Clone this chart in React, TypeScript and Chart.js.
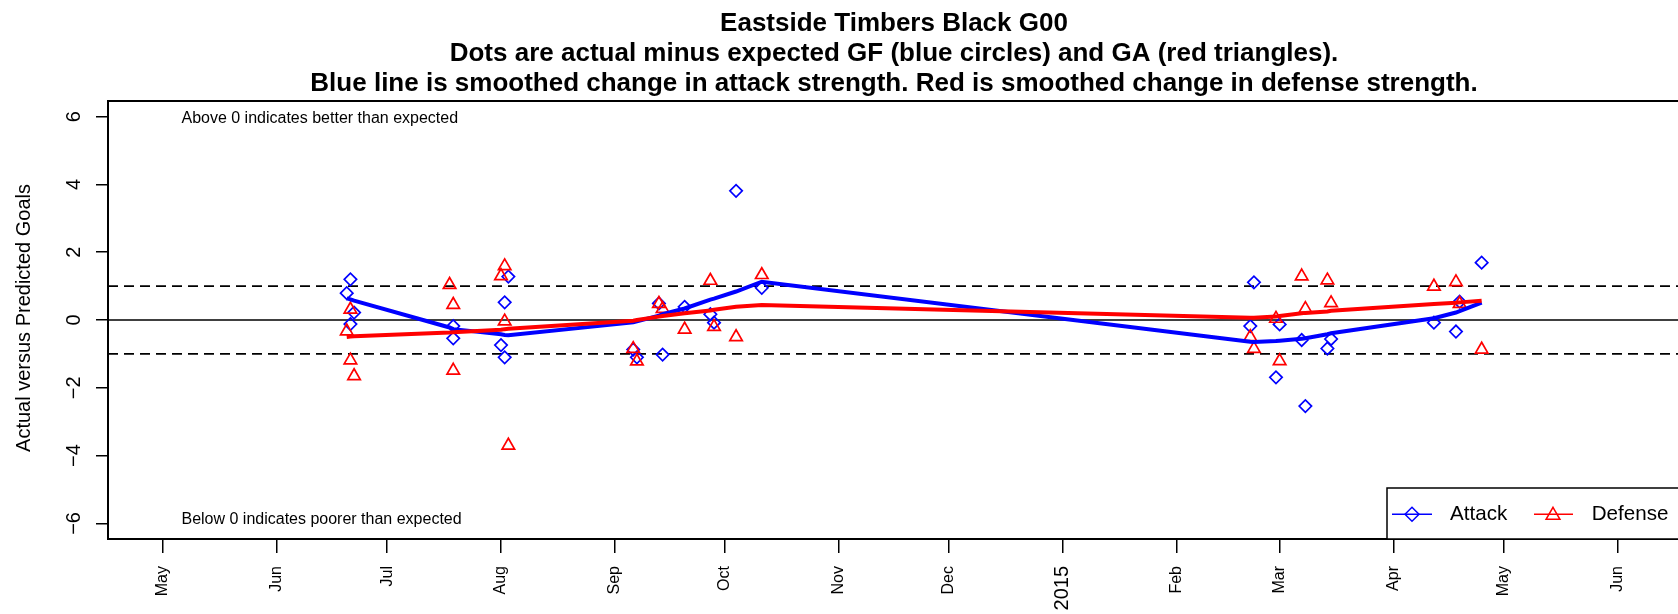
import React, { useEffect, useRef } from 'react';
import { Chart, registerables } from 'chart.js';

Chart.register(...registerables);

const FONT = '"Liberation Sans", Arial, Helvetica, sans-serif';

const TITLE_LINES = [
  'Eastside Timbers Black G00',
  'Dots are actual minus expected GF (blue circles) and GA (red triangles).',
  'Blue line is smoothed change in attack strength. Red is smoothed change in defense strength.',
];
const Y_AXIS_TITLE = 'Actual versus Predicted Goals';
const NOTE_ABOVE = 'Above 0 indicates better than expected';
const NOTE_BELOW = 'Below 0 indicates poorer than expected';
const LEGEND_LABELS = ['Attack', 'Defense'];

const X_RANGE = ['2014-04-16', '2015-06-18'];
const Y_RANGE = [-6.46, 6.46];
const X_TICK_DATES = [
  '2014-05-01', '2014-06-01', '2014-07-01', '2014-08-01', '2014-09-01', '2014-10-01', '2014-11-01',
  '2014-12-01', '2015-01-01', '2015-02-01', '2015-03-01', '2015-04-01', '2015-05-01', '2015-06-01',
];
const X_TICK_LABELS = ['May', 'Jun', 'Jul', 'Aug', 'Sep', 'Oct', 'Nov', 'Dec', '2015', 'Feb', 'Mar', 'Apr', 'May', 'Jun'];
const Y_TICKS = [-6, -4, -2, 0, 2, 4, 6];
const Y_TICK_LABELS = ['\u22126', '\u22124', '\u22122', '0', '2', '4', '6'];
const DASHED_LEVELS = [1, -1];
const ZERO_LEVELS = [0];
const NOTE_X_DATE = '2014-05-06';
const NOTE_Y_VALUES = [5.95, -5.9];

const ATTACK_DATES = [
  '2014-06-20', '2014-06-21', '2014-06-21', '2014-06-22',
  '2014-07-19', '2014-07-19',
  '2014-08-01', '2014-08-02', '2014-08-02', '2014-08-03',
  '2014-09-06', '2014-09-07', '2014-09-13', '2014-09-14', '2014-09-20', '2014-09-27', '2014-09-28', '2014-10-04', '2014-10-11',
  '2015-02-21', '2015-02-22', '2015-02-28', '2015-03-01', '2015-03-07', '2015-03-08', '2015-03-14', '2015-03-15',
  '2015-04-12', '2015-04-18', '2015-04-19', '2015-04-25',
];
const ATTACK_VALUES = [
  0.79, 1.2, -0.12, 0.22,
  -0.18, -0.54,
  -0.74, 0.52, -1.1, 1.28,
  -0.87, -1.1, 0.49, -1.02, 0.39, 0.17, -0.08, 3.81, 0.95,
  -0.18, 1.11, -1.69, -0.13, -0.59, -2.54, -0.84, -0.56,
  -0.08, -0.34, 0.54, 1.69,
];

const DEFENSE_DATES = [
  '2014-06-20', '2014-06-21', '2014-06-21', '2014-06-22',
  '2014-07-18', '2014-07-19', '2014-07-19',
  '2014-08-01', '2014-08-02', '2014-08-02', '2014-08-03',
  '2014-09-06', '2014-09-07', '2014-09-13', '2014-09-14', '2014-09-20', '2014-09-27', '2014-09-28', '2014-10-04', '2014-10-11',
  '2015-02-21', '2015-02-22', '2015-02-28', '2015-03-01', '2015-03-07', '2015-03-08', '2015-03-14', '2015-03-15',
  '2015-04-12', '2015-04-18', '2015-04-19', '2015-04-25',
];
const DEFENSE_VALUES = [
  -0.33, 0.31, -1.19, -1.65,
  1.04, 0.45, -1.49,
  1.3, 1.59, -0.04, -3.7,
  -0.85, -1.22, 0.48, 0.33, -0.28, 1.16, -0.2, -0.5, 1.33,
  -0.5, -0.85, 0.04, -1.21, 1.29, 0.33, 1.17, 0.5,
  0.99, 1.12, 0.48, -0.87,
];

const TREND_DATES = [
  '2014-06-20', '2014-06-21', '2014-06-22', '2014-07-18', '2014-07-19', '2014-08-01', '2014-08-02', '2014-08-03',
  '2014-09-06', '2014-09-07', '2014-09-13', '2014-09-14', '2014-09-20', '2014-09-27', '2014-09-28', '2014-10-04', '2014-10-11',
  '2015-02-21', '2015-02-22', '2015-02-28', '2015-03-01', '2015-03-07', '2015-03-08', '2015-03-14', '2015-03-15',
  '2015-04-12', '2015-04-18', '2015-04-19', '2015-04-25',
];
const ATTACK_TREND = [
  0.64, 0.61, 0.57, -0.22, -0.27, -0.42, -0.44, -0.45,
  -0.07, -0.04, 0.13, 0.17, 0.34, 0.6, 0.63, 0.84, 1.13,
  -0.64, -0.65, -0.62, -0.61, -0.55, -0.54, -0.42, -0.39,
  0.05, 0.22, 0.26, 0.51,
];
const DEFENSE_TREND = [
  -0.5, -0.49, -0.48, -0.37, -0.36, -0.29, -0.27, -0.26,
  -0.02, 0.0, 0.1, 0.12, 0.2, 0.28, 0.3, 0.39, 0.44,
  0.07, 0.07, 0.1, 0.12, 0.2, 0.21, 0.25, 0.27,
  0.47, 0.51, 0.52, 0.57,
];

const BLUE = '#0000FF';
const RED = '#FF0000';

const toDay = (s: string) => {
  const [y, m, d] = s.split('-').map(Number);
  return Date.UTC(y, m - 1, d) / 86400000;
};

const pts = (dates: string[], vals: number[]) => dates.map((d, i) => ({ x: toDay(d), y: vals[i] }));
const hline = (v: number) => [
  { x: toDay(X_RANGE[0]), y: v },
  { x: toDay(X_RANGE[1]), y: v },
];

function drawDiamond(ctx: CanvasRenderingContext2D, x: number, y: number, r: number) {
  ctx.beginPath();
  ctx.moveTo(x - r, y);
  ctx.lineTo(x, y - r);
  ctx.lineTo(x + r, y);
  ctx.lineTo(x, y + r);
  ctx.closePath();
  ctx.stroke();
}
function drawTriangle(ctx: CanvasRenderingContext2D, x: number, y: number, r: number) {
  ctx.beginPath();
  ctx.moveTo(x, y - r);
  ctx.lineTo(x + r * 0.866, y + r / 2);
  ctx.lineTo(x - r * 0.866, y + r / 2);
  ctx.closePath();
  ctx.stroke();
}

const decorPlugin = {
  id: 'rDecor',
  afterDraw(chart: any) {
    const { ctx, chartArea: a, scales } = chart;
    const xs = scales.x;
    const ys = scales.y;
    ctx.save();
    // plot box
    ctx.strokeStyle = '#000';
    ctx.lineWidth = 2;
    ctx.setLineDash([]);
    ctx.strokeRect(a.left, a.top, a.right - a.left, a.bottom - a.top);

    // titles
    ctx.fillStyle = '#000';
    ctx.font = `bold 26px ${FONT}`;
    ctx.textAlign = 'center';
    ctx.textBaseline = 'alphabetic';
    const cx = (a.left + a.right) / 2;
    TITLE_LINES.forEach((t, i) => ctx.fillText(t, cx, 31 + 30 * i));

    // y tick labels (rotated, as in R)
    ctx.font = `20px ${FONT}`;
    Y_TICKS.forEach((v, i) => {
      const y = ys.getPixelForValue(v);
      ctx.save();
      ctx.translate(a.left - 28, y);
      ctx.rotate(-Math.PI / 2);
      ctx.textAlign = 'center';
      ctx.textBaseline = 'alphabetic';
      ctx.fillText(Y_TICK_LABELS[i], 0, 0);
      ctx.restore();
    });

    // y axis title
    ctx.save();
    ctx.font = `20px ${FONT}`;
    ctx.translate(29.5, (a.top + a.bottom) / 2 - 2);
    ctx.rotate(-Math.PI / 2);
    ctx.textAlign = 'center';
    ctx.textBaseline = 'alphabetic';
    ctx.fillText(Y_AXIS_TITLE, 0, 0);
    ctx.restore();

    // notes
    ctx.font = `16px ${FONT}`;
    ctx.textAlign = 'left';
    ctx.textBaseline = 'middle';
    const nx = xs.getPixelForValue(toDay(NOTE_X_DATE));
    ctx.fillText(NOTE_ABOVE, nx, ys.getPixelForValue(NOTE_Y_VALUES[0]));
    ctx.fillText(NOTE_BELOW, nx, ys.getPixelForValue(NOTE_Y_VALUES[1]));

    // legend (bottom right)
    const L = a.right - 293;
    const T = a.bottom - 51;
    ctx.fillStyle = '#fff';
    ctx.fillRect(L, T, a.right - L, 51);
    ctx.strokeStyle = '#000';
    ctx.lineWidth = 1.5;
    ctx.strokeRect(L, T, a.right - L + 20, 51);
    const cy = a.bottom - 24.7;
    ctx.lineWidth = 1.5;
    ctx.strokeStyle = BLUE;
    ctx.beginPath();
    ctx.moveTo(L + 5, cy);
    ctx.lineTo(L + 45, cy);
    ctx.stroke();
    drawDiamond(ctx, L + 25, cy, 7);
    ctx.strokeStyle = RED;
    ctx.beginPath();
    ctx.moveTo(L + 147, cy);
    ctx.lineTo(L + 186, cy);
    ctx.stroke();
    drawTriangle(ctx, L + 166, cy + 1, 8);
    ctx.fillStyle = '#000';
    ctx.font = `20.6px ${FONT}`;
    ctx.textAlign = 'left';
    ctx.textBaseline = 'middle';
    ctx.fillText(LEGEND_LABELS[0], L + 63, cy);
    ctx.fillText(LEGEND_LABELS[1], L + 204.7, cy);
    ctx.restore();
  },
};

export default function App() {
  const ref = useRef<HTMLCanvasElement>(null);

  useEffect(() => {
    const canvas = ref.current;
    if (!canvas) return;
    const datasets: any[] = [
      ...DASHED_LEVELS.map((v) => ({
        type: 'line',
        data: hline(v),
        borderColor: '#000',
        borderWidth: 1.7,
        borderDash: [10, 6],
        pointRadius: 0,
        showLine: true,
        order: 10,
      })),
      ...ZERO_LEVELS.map((v) => ({
        type: 'line',
        data: hline(v),
        borderColor: '#000',
        borderWidth: 1.7,
        pointRadius: 0,
        showLine: true,
        order: 9,
      })),
      {
        type: 'scatter',
        label: 'Attack points',
        data: pts(ATTACK_DATES, ATTACK_VALUES),
        pointStyle: 'rectRot',
        pointRadius: 6.2,
        borderColor: BLUE,
        backgroundColor: 'rgba(0,0,0,0)',
        borderWidth: 1.7,
        showLine: false,
        order: 5,
      },
      {
        type: 'scatter',
        label: 'Defense points',
        data: pts(DEFENSE_DATES, DEFENSE_VALUES),
        pointStyle: 'triangle',
        pointRadius: 7.2,
        borderColor: RED,
        backgroundColor: 'rgba(0,0,0,0)',
        borderWidth: 1.7,
        showLine: false,
        order: 4,
      },
      {
        type: 'line',
        label: 'Attack',
        data: pts(TREND_DATES, ATTACK_TREND),
        borderColor: BLUE,
        borderWidth: 4,
        pointRadius: 0,
        tension: 0,
        showLine: true,
        order: 2,
      },
      {
        type: 'line',
        label: 'Defense',
        data: pts(TREND_DATES, DEFENSE_TREND),
        borderColor: RED,
        borderWidth: 4,
        pointRadius: 0,
        tension: 0,
        showLine: true,
        order: 1,
      },
    ];

    const chart = new Chart(canvas, {
      type: 'scatter',
      data: { datasets },
      options: {
        animation: false,
        responsive: false,
        devicePixelRatio: 1,
        events: [],
        layout: { padding: { left: 0, top: 101, right: 20, bottom: 0 } },
        plugins: {
          legend: { display: false },
          tooltip: { enabled: false },
          title: { display: false },
        },
        scales: {
          x: {
            type: 'linear',
            position: 'bottom',
            min: toDay(X_RANGE[0]),
            max: toDay(X_RANGE[1]),
            afterBuildTicks: (s: any) => {
              s.ticks = X_TICK_DATES.map((d) => ({ value: toDay(d) }));
            },
            afterFit: (s: any) => {
              s.height = 75;
            },
            ticks: {
              autoSkip: false,
              minRotation: 90,
              maxRotation: 90,
              padding: 13,
              color: '#000',
              callback: (_v: any, i: number) => X_TICK_LABELS[i],
              font: (c: any) => ({
                family: FONT,
                size: X_TICK_LABELS[c.index] === '2015' ? 20 : 16,
              }),
            },
            grid: {
              display: true,
              drawOnChartArea: false,
              drawTicks: true,
              tickLength: 14,
              color: '#000',
              lineWidth: 1.5,
            },
            border: { display: false },
          },
          y: {
            type: 'linear',
            position: 'left',
            min: Y_RANGE[0],
            max: Y_RANGE[1],
            afterBuildTicks: (s: any) => {
              s.ticks = Y_TICKS.map((v) => ({ value: v }));
            },
            afterFit: (s: any) => {
              s.width = 108;
            },
            ticks: { display: false },
            grid: {
              display: true,
              drawOnChartArea: false,
              drawTicks: true,
              tickLength: 12,
              color: '#000',
              lineWidth: 1.5,
            },
            border: { display: false },
          },
        },
      } as any,
      plugins: [decorPlugin],
    } as any);
    return () => chart.destroy();
  }, []);

  return (
    <div
      style={{
        position: 'fixed',
        left: 0,
        top: 0,
        width: 1678,
        height: 614,
        overflow: 'hidden',
        background: '#fff',
      }}
    >
      <canvas ref={ref} width={1700} height={614} style={{ display: 'block', width: 1700, height: 614 }} />
    </div>
  );
}
